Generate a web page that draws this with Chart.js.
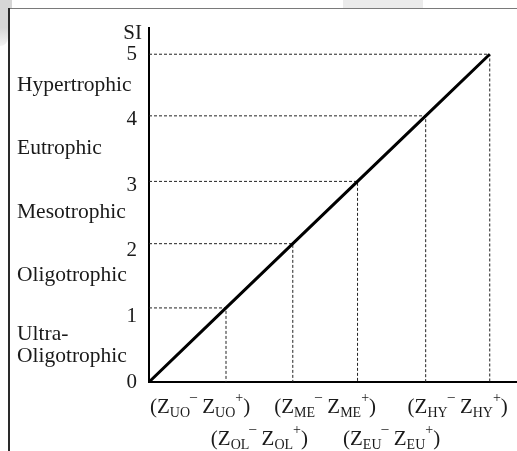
<!DOCTYPE html>
<html>
<head>
<meta charset="utf-8">
<script src="https://cdn.jsdelivr.net/npm/chart.js@4.4.1/dist/chart.umd.min.js"></script>
<style>
  body { margin: 0; background: #fff; }
  #wrap { position: relative; width: 517px; height: 451px; overflow: hidden; }
  .bg { position: absolute; }
  canvas { position: absolute; left: 0; top: 0; z-index: 1; }
</style>
</head>
<body>
<div id="wrap">
  <!-- page frame and the grey scraps around it -->
  <div class="bg" style="left:0;top:0;width:8px;height:46px;background:linear-gradient(#d6d6d6,#d6d6d6 60%,#f4f4f4);border-bottom-right-radius:8px;"></div>
  <div class="bg" style="left:0;top:0;width:12px;height:8px;background:#d6d6d6;"></div>
  <div class="bg" style="left:343px;top:0;width:80px;height:8px;background:#ebebeb;"></div>
  <div class="bg" style="left:8px;top:8px;width:509px;height:1px;background:#7a7a7a;"></div>
  <div class="bg" style="left:8px;top:8px;width:2px;height:443px;background:#2a2a2a;"></div>
  <canvas id="chart" width="517" height="451"></canvas>
</div>
<script>
// SI tick labels on the left axis
const siTicks = [0, 1, 2, 3, 4, 5];
// where the trophic classes meet (same value on both axes)
const classBounds = [0, 1.13, 2.11, 3.06, 4.06, 5];
// class names, bottom to top
const trophicNames = [["Ultra-", "Oligotrophic"], ["Oligotrophic"], ["Mesotrophic"], ["Eutrophic"], ["Hypertrophic"]];
// Z interval codes under the x axis, and which row each one sits on
const zCodes = ["UO", "OL", "ME", "EU", "HY"];
const zRows = [0, 1, 0, 1, 0];

const serif = '"Liberation Serif", "DejaVu Serif", serif';
const textColor = "#1a1a1a";

// main SI line
const datasets = [{
    data: classBounds.map(b => ({x: b, y: b})),
    borderColor: "#000",
    borderWidth: 3,
    pointRadius: 0,
    order: 0
}];

// dashed guides: across from the axis, then down to the axis
for (let i = 1; i < classBounds.length; i++) {
    const b = classBounds[i];
    datasets.push({
        data: [{x: 0, y: b}, {x: b, y: b}, {x: b, y: 0}],
        borderColor: "#222",
        borderWidth: 1,
        borderDash: [3, 2],
        pointRadius: 0,
        order: 1
    });
}

function drawZLabel(ctx, code, cx, baseline, minLeft) {
    const big = "21px " + serif;
    const small = "14px " + serif;
    const parts = [
        ["(", big, 0], ["Z", big, 0], [code, small, 4], ["\u2013", small, -12],
        [" ", big, 0], ["Z", big, 0], [code, small, 4], ["+", small, -11], [")", big, 0]
    ];
    let w = 0;
    parts.forEach(p => { ctx.font = p[1]; w += ctx.measureText(p[0]).width; });
    let x = Math.max(cx - w / 2, minLeft);
    parts.forEach(p => {
        ctx.font = p[1];
        ctx.fillText(p[0], x, baseline + p[2]);
        x += ctx.measureText(p[0]).width;
    });
}

const labelPlugin = {
    id: "labels",
    afterDraw(chart) {
        const ctx = chart.ctx;
        const xs = chart.scales.x;
        const ys = chart.scales.y;
        const area = chart.chartArea;
        ctx.save();
        ctx.fillStyle = textColor;

        // SI axis title
        ctx.font = "21px " + serif;
        ctx.textAlign = "right";
        ctx.textBaseline = "middle";
        ctx.fillText("SI", area.left - 7, 33);

        // class names between the guide lines
        ctx.font = "21.5px " + serif;
        ctx.textAlign = "left";
        trophicNames.forEach((lines, i) => {
            const mid = ys.getPixelForValue((classBounds[i] + classBounds[i + 1]) / 2);
            const lh = 22;
            lines.forEach((t, j) => {
                ctx.fillText(t, 17, mid + (j - (lines.length - 1) / 2) * lh);
            });
        });

        // Z intervals under the axis
        ctx.textAlign = "left";
        ctx.textBaseline = "alphabetic";
        zCodes.forEach((code, i) => {
            const cx = xs.getPixelForValue((classBounds[i] + classBounds[i + 1]) / 2);
            const baseline = area.bottom + 31 + zRows[i] * 32;
            drawZLabel(ctx, code, cx, baseline, area.left + 1);
        });
        ctx.restore();
    }
};

new Chart(document.getElementById("chart"), {
    type: "line",
    data: {datasets},
    options: {
        responsive: false,
        animation: false,
        layout: {padding: {top: 28, right: 0, left: 0, bottom: 0}},
        plugins: {legend: {display: false}, tooltip: {enabled: false}},
        scales: {
            x: {
                type: "linear",
                min: 0,
                max: 5.4,
                grid: {display: false, drawTicks: false},
                border: {display: true, color: "#000", width: 2},
                ticks: {display: false},
                afterFit: s => { s.height = 69; }
            },
            y: {
                type: "linear",
                min: 0,
                max: 5.4,
                grid: {display: false, drawTicks: false},
                border: {display: true, color: "#000", width: 2},
                ticks: {
                    padding: 12,
                    color: textColor,
                    font: {family: serif, size: 21}
                },
                afterBuildTicks: s => { s.ticks = siTicks.map(v => ({value: v})); },
                afterFit: s => { s.width = 149; }
            }
        }
    },
    plugins: [labelPlugin]
});
</script>
</body>
</html>
